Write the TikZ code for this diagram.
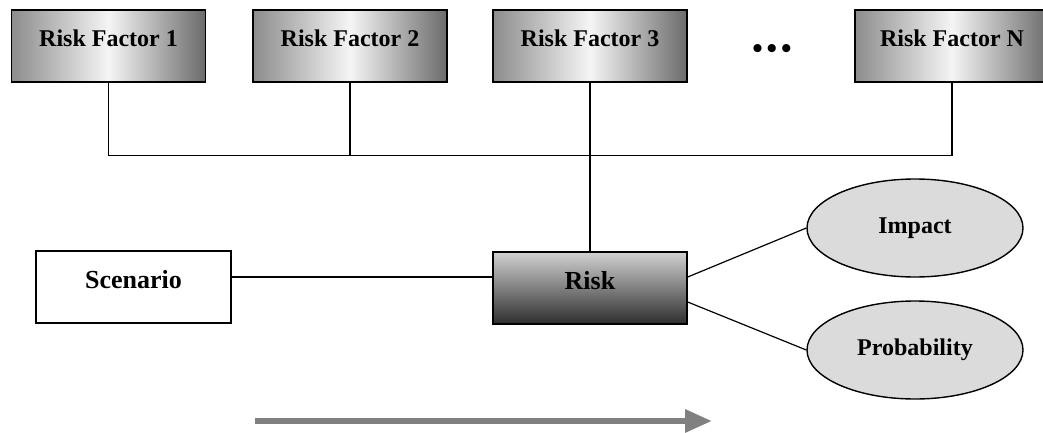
\documentclass[tikz,border=0pt]{standalone}
\usepackage{fontspec}
\setmainfont{Liberation Serif}
\usetikzlibrary{shapes.geometric,arrows.meta}

\tikzset{
  box/.style={draw, line width=1.4pt, rectangle, minimum width=194pt,
    inner xsep=0pt, inner ysep=0pt, text height=37pt, text depth=35pt,
    font=\fontsize{24}{28}\selectfont\bfseries},
  factorbox/.style={box, left color=black!45, right color=black!58,
    middle color=black!4},
  riskbox/.style={box, top color=black!18, bottom color=black!82,
    font=\fontsize{26}{30}\selectfont\bfseries},
  plainbox/.style={box, fill=white,
    font=\fontsize{26}{30}\selectfont\bfseries},
  outcome/.style={draw, ellipse, line width=1.4pt, fill=black!14,
    minimum width=216pt, minimum height=98pt, inner sep=0pt,
    font=\fontsize{24}{28}\selectfont\bfseries},
  wire/.style={line width=1.2pt}
}

\begin{document}
\begin{tikzpicture}[x=1pt, y=-1pt]
    \useasboundingbox (0,0) rectangle (1043,433);

    % First the row of risk factors
    \node[factorbox] (rf1) at (108.5,46) {Risk Factor 1};
    \node[factorbox] (rf2) at (350,46) {Risk Factor 2};
    \node[factorbox] (rf3) at (590,46) {Risk Factor 3};
    \node[factorbox] (rfn) at (952,46) {Risk Factor N};
    \node[font=\fontsize{30}{34}\selectfont\bfseries] (dots) at (772,52)
      {\textbullet\hspace{4pt}\textbullet\hspace{4pt}\textbullet};

    % Next the middle row
    \node[plainbox, minimum width=195pt] (scen) at (133.5,287) {Scenario};
    \node[riskbox] (risk) at (590,288) {Risk};
    \node[outcome] (impact) at (915,228) {Impact};
    \node[outcome] (prob) at (915,350) {Probability};

    % Connect them
    \draw[wire] (rf1.south) -- ++(0,73) -| (rfn.south);
    \draw[wire] (rf2.south) -- ++(0,73);
    \draw[wire] (rf3.south) -- (risk.north);
    \draw[wire] ([yshift=10pt]scen.east) -- ([yshift=10pt]scen.east -| risk.west);
    \draw[wire] ([yshift=11pt]risk.east) -- (impact.west);
    \draw[wire] ([yshift=-14pt]risk.east) -- (prob.west);

    % Finally the big arrow
    \coordinate (A0) at (255,421);
    \coordinate (A1) at (712,421);
    \draw[line width=6pt, black!50, -{Triangle[length=27pt,width=22pt]}] (A0) -- (A1);
\end{tikzpicture}
\end{document}
